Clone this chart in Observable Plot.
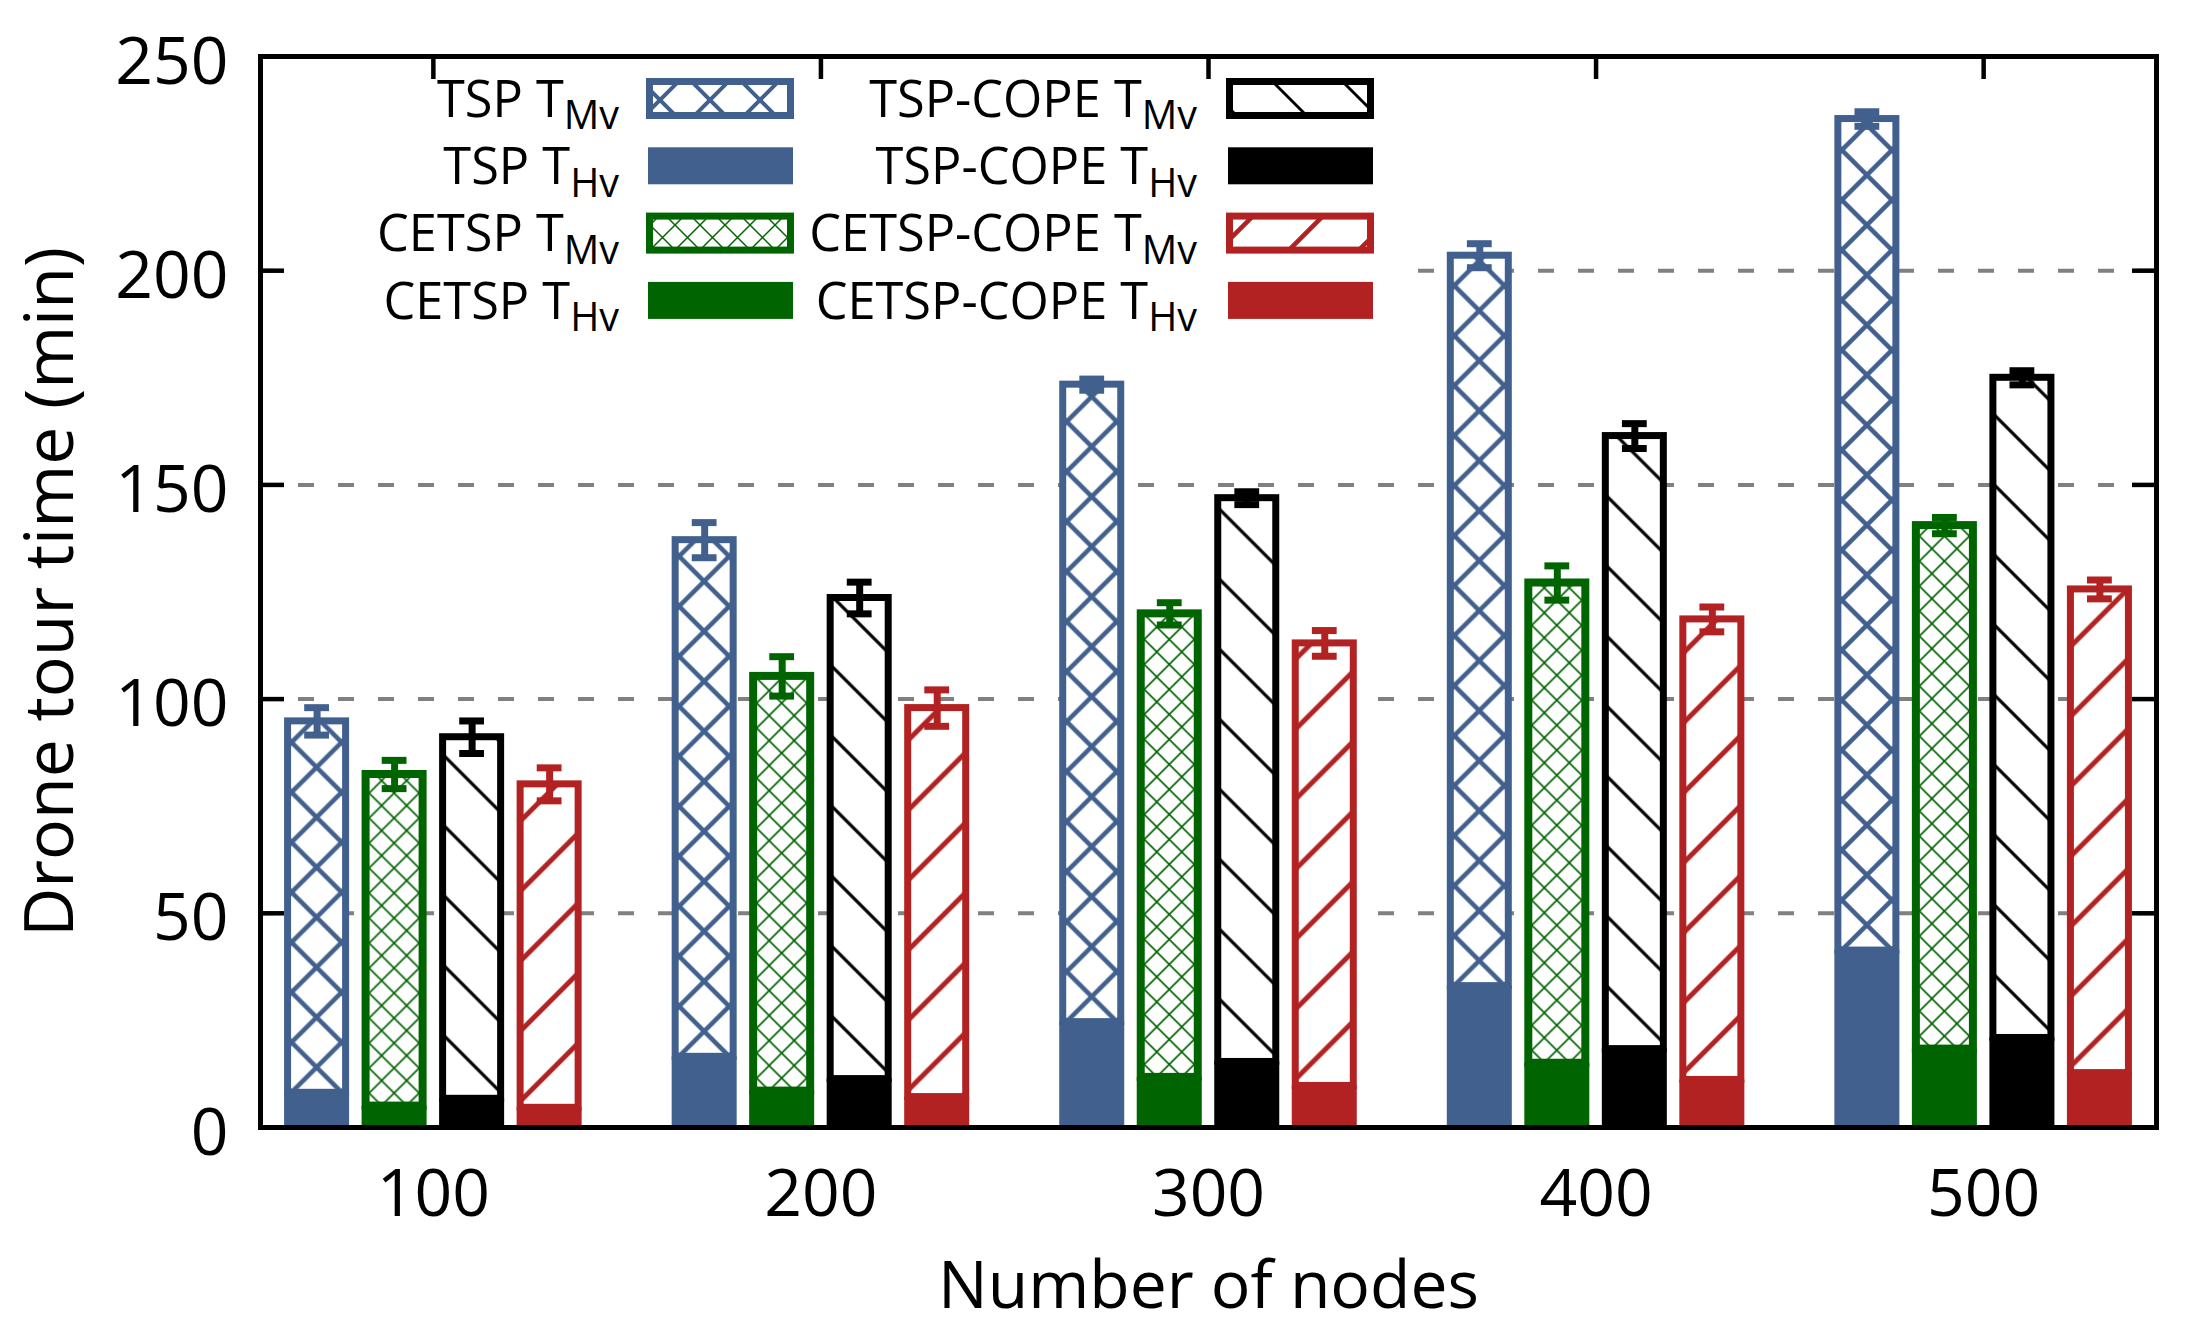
<!DOCTYPE html>
<html><head><meta charset="utf-8">
<script src="https://cdn.jsdelivr.net/npm/d3@7"></script>
<script src="https://cdn.jsdelivr.net/npm/@observablehq/plot@0.6"></script>
<style>
body{margin:0;background:#fff;}
#wrap{position:relative;width:2190px;height:1339px;}
#wrap > svg{position:absolute;left:0;top:0;}
</style></head><body><div id="wrap"></div>
<script>
// ---------------- data ----------------
const nodes = [100, 200, 300, 400, 500];
const methods = ["TSP", "CETSP", "TSP-COPE", "CETSP-COPE"];
// hovering time (solid, bottom) and moving time (hatched, stacked on top), minutes
const hvTSP = [8.1, 16.5, 24.6, 33.0, 41.3];
const mvTSP = [86.7, 120.6, 148.8, 170.5, 194.1];
const errTSP = [3.2, 4.1, 1.3, 2.8, 1.7];
const hvCETSP = [5.0, 8.5, 11.7, 15.0, 18.3];
const mvCETSP = [77.4, 96.8, 108.2, 112.1, 122.2];
const errCETSP = [3.3, 4.6, 2.6, 4.0, 1.9];
const hvTSPCOPE = [6.7, 11.3, 15.3, 18.3, 20.9];
const mvTSPCOPE = [84.4, 112.3, 131.6, 143.1, 154.1];
const errTSPCOPE = [3.8, 3.7, 1.5, 2.9, 1.65];
const hvCETSPCOPE = [4.6, 7.1, 9.7, 11.1, 12.7];
const mvCETSPCOPE = [75.5, 90.8, 103.3, 107.5, 112.9];
const errCETSPCOPE = [3.85, 4.25, 3.0, 2.9, 2.2];
const yTicks = [0, 50, 100, 150, 200, 250];
const gridValues = [50, 100, 150, 200];
const xTitle = "Number of nodes";
const yTitle = "Drone tour time (min)";
const legendMain = ["TSP T", "TSP T", "CETSP T", "CETSP T", "TSP-COPE T", "TSP-COPE T", "CETSP-COPE T", "CETSP-COPE T"];
const legendSub = ["Mv", "Hv", "Mv", "Hv", "Mv", "Hv", "Mv", "Hv"];
const legendMethod = ["TSP", "TSP", "CETSP", "CETSP", "TSP-COPE", "TSP-COPE", "CETSP-COPE", "CETSP-COPE"];

const hvAll = [hvTSP, hvCETSP, hvTSPCOPE, hvCETSPCOPE];
const mvAll = [mvTSP, mvCETSP, mvTSPCOPE, mvCETSPCOPE];
const errAll = [errTSP, errCETSP, errTSPCOPE, errCETSPCOPE];

// ---------------- styles ----------------
const colors = {"TSP": "#41608e", "CETSP": "#006400", "TSP-COPE": "#000000", "CETSP-COPE": "#b22222"};
const boxStroke = {"TSP": 7, "CETSP": 8, "TSP-COPE": 7, "CETSP-COPE": 7};
const PAT = {
  "TSP": {T: 50, w: 4.5, diag: true, anti: true},
  "CETSP": {T: 25, w: 1.6, diag: true, anti: true},
  "TSP-COPE": {T: 70, w: 3.2, diag: true, anti: false},
  "CETSP-COPE": {T: 70, w: 5, diag: false, anti: true}
};
const FONT = "Open Sans";

const W = 2190, H = 1339, ML = 260, MR = 34, MT = 56, MB = 212;
const plotW = W - ML - MR, plotH = H - MT - MB;
const SLOT = 20;             // node-units per bar slot
const barInset = 6.25;       // px each side of slot
const capHalf = 3.2;         // node-units

const rows = [];
methods.forEach((m, si) => {
  nodes.forEach((n, i) => {
    const hv = hvAll[si][i], mv = mvAll[si][i];
    rows.push({method: m, si, node: n, hv, mv, total: hv + mv, err: errAll[si][i],
      c: n + (si - 1.5) * SLOT});
  });
});

const marks = [
  Plot.ruleY(gridValues, {stroke: "#808080", strokeWidth: 4, strokeDasharray: "16,24", strokeDashoffset: 2})
];
methods.forEach(m => {
  const data = rows.filter(d => d.method === m);
  const sw = boxStroke[m];
  marks.push(Plot.rectY(data, {
    x1: d => d.c - SLOT / 2, x2: d => d.c + SLOT / 2, y1: "hv", y2: "total",
    fill: "white", stroke: colors[m], strokeWidth: sw,
    insetLeft: barInset + sw / 2, insetRight: barInset + sw / 2,
    ariaDescription: "mv-" + m
  }));
  marks.push(Plot.rectY(data, {
    x1: d => d.c - SLOT / 2, x2: d => d.c + SLOT / 2, y1: 0, y2: "hv",
    fill: colors[m], insetLeft: barInset, insetRight: barInset
  }));
  marks.push(Plot.ruleX(data, {x: "c", y1: d => d.total - d.err, y2: d => d.total + d.err, stroke: colors[m], strokeWidth: 7}));
  marks.push(Plot.ruleY(data, {y: d => d.total + d.err, x1: d => d.c - capHalf, x2: d => d.c + capHalf, stroke: colors[m], strokeWidth: 7}));
  marks.push(Plot.ruleY(data, {y: d => d.total - d.err, x1: d => d.c - capHalf, x2: d => d.c + capHalf, stroke: colors[m], strokeWidth: 7}));
});
marks.push(
  Plot.frame({stroke: "black", strokeWidth: 5}),
  Plot.ruleY(yTicks, {stroke: "black", strokeWidth: 4.5, insetRight: plotW - 24}),
  Plot.ruleY(yTicks, {stroke: "black", strokeWidth: 4.5, insetLeft: plotW - 24}),
  Plot.ruleX(nodes, {stroke: "black", strokeWidth: 4.5, insetBottom: plotH - 23}),
  Plot.text(yTicks, {y: d => d, text: d => String(d), frameAnchor: "left", textAnchor: "end", dx: -32, dy: 6, fontSize: 66, fontFamily: FONT, fill: "black"}),
  Plot.text(nodes, {x: d => d, text: d => String(d), frameAnchor: "bottom", lineAnchor: "top", dy: 42, fontSize: 66, fontFamily: FONT, fill: "black"}),
  Plot.text([xTitle], {text: d => d, frameAnchor: "bottom", lineAnchor: "top", dy: 134, fontSize: 66, fontFamily: FONT, fill: "black"}),
  Plot.text([yTitle], {text: d => d, frameAnchor: "left", rotate: -90, lineAnchor: "top", textAnchor: "middle", dx: -235.5, fontSize: 68, fontFamily: FONT, fill: "black"})
);

const chart = Plot.plot({
  width: W, height: H,
  marginLeft: ML, marginRight: MR, marginTop: MT, marginBottom: MB,
  x: {type: "linear", domain: [55.4, 544.6], axis: null},
  y: {domain: [0, 250], axis: null},
  style: {fontFamily: FONT, background: "white"},
  marks
});
document.getElementById("wrap").appendChild(chart);

// ---------------- hatch patterns ----------------
function makePattern(defs, id, m, x, y, wScale = 1) {
  const {T, w, diag, anti} = PAT[m];
  const p = defs.append("pattern").attr("id", id).attr("patternUnits", "userSpaceOnUse")
    .attr("x", x).attr("y", y).attr("width", T).attr("height", T);
  p.append("rect").attr("width", T).attr("height", T).attr("fill", "white");
  let d = "";
  const e = 4;
  for (const k of [-1, 0, 1]) {
    if (diag) d += `M${k * T - e},${-e}L${k * T + T + e},${T + e}`;
    if (anti) d += `M${k * T + T + e},${-e}L${k * T - e},${T + e}`;
  }
  p.append("path").attr("d", d).attr("stroke", colors[m]).attr("stroke-width", w * wScale).attr("fill", "none");
}
const svgSel = d3.select(chart);
const defs = svgSel.insert("defs", ":first-child");
methods.forEach((m, si) => {
  let sel = svgSel.selectAll(`g[aria-description="mv-${m}"] rect`);
  if (sel.empty()) sel = svgSel.selectAll(`g[fill="white"][stroke="${colors[m]}"] rect`);
  sel.each(function (_, i) {
    const r = d3.select(this);
    const x = +r.attr("x"), w = +r.attr("width"), y = +r.attr("y"), h = +r.attr("height");
    const id = `pat-${si}-${i}`;
    makePattern(defs, id, m, x + w / 2 - PAT[m].T / 2, y + h);
    r.attr("fill", `url(#${id})`);
  });
});

// ---------------- legend (inside plot frame) ----------------
const leg = d3.select("#wrap").append("svg").attr("width", W).attr("height", H).style("pointer-events", "none");
const ldefs = leg.append("defs");
leg.append("rect").attr("x", 288).attr("y", 80).attr("width", 1112).attr("height", 252).attr("fill", "white");
const textRight = [619, 1197];
const swatchX = [648, 1228];
const phase = {"TSP": [685, 75], "CETSP": [0, 0], "TSP-COPE": [51, 0], "CETSP-COPE": [49, 0]};
legendMain.forEach((lab, k) => {
  const col = Math.floor(k / 4), row = k % 4;
  const cy = 98.5 + 67.3 * row;
  const m = legendMethod[k];
  const t = leg.append("text").attr("x", textRight[col]).attr("y", cy + 18.2)
    .attr("text-anchor", "end").attr("font-family", FONT).attr("font-size", 50.5).attr("fill", "black");
  t.append("tspan").text(lab);
  t.append("tspan").attr("dy", 12.6).attr("font-size", 39.5).text(legendSub[k]);
  if (legendSub[k] === "Mv") {
    const id = `lpat-${k}`;
    const ph = phase[m];
    makePattern(ldefs, id, m, ph[0] + (col ? 580 : 0), ph[1], 0.9);
    leg.append("rect").attr("x", swatchX[col] + 1.5).attr("y", cy - 17).attr("width", 141).attr("height", 34)
      .attr("fill", `url(#${id})`).attr("stroke", colors[m]).attr("stroke-width", 7);
  } else {
    leg.append("rect").attr("x", swatchX[col]).attr("y", cy - 18.5).attr("width", 145).attr("height", 37)
      .attr("fill", colors[m]);
  }
});
</script></body></html>
